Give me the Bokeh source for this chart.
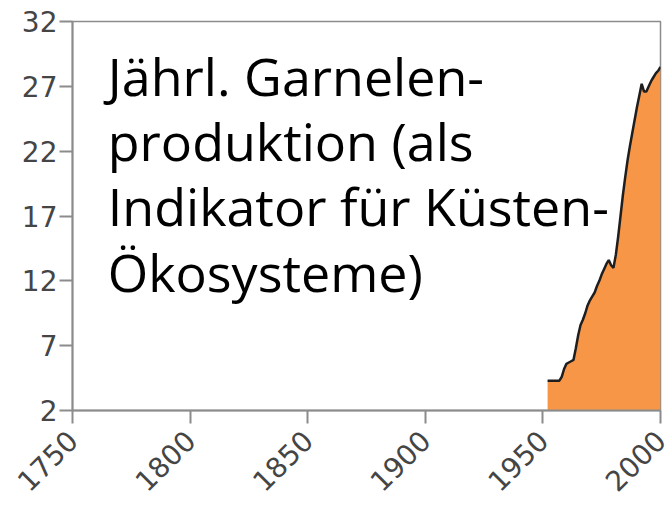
from bokeh.plotting import figure
from bokeh.models import Range1d, FixedTicker, Label
from bokeh.embed import file_html
from bokeh.resources import INLINE
import math

years = [1952, 1953, 1954, 1955, 1956, 1957, 1958, 1959, 1960, 1961, 1962, 1963,
         1964, 1965, 1966, 1967, 1968, 1969, 1970, 1971, 1972, 1973, 1974, 1975,
         1976, 1977, 1978, 1979, 1980, 1981, 1982, 1983, 1984, 1985, 1986, 1987,
         1988, 1989, 1990, 1991, 1992, 1993, 1994, 1995, 1996, 1997, 1998, 1999, 2000]
production = [4.3, 4.3, 4.3, 4.3, 4.3, 4.3, 4.6, 5.2, 5.6, 5.7, 5.8, 5.9,
              6.8, 7.8, 8.6, 9.0, 9.5, 10.1, 10.5, 10.8, 11.1, 11.6, 12.0, 12.5,
              12.9, 13.3, 13.6, 13.2, 13.0, 14.0, 15.4, 17.0, 18.6, 20.0, 21.3, 22.4,
              23.4, 24.4, 25.4, 26.3, 27.2, 26.6, 26.6, 27.0, 27.4, 27.7, 28.0, 28.2, 28.5]
y_ticks = [2, 7, 12, 17, 22, 27, 32]
x_ticks = [1750, 1800, 1850, 1900, 1950, 2000]
title_text = "Jährl. Garnelen-\nproduktion (als\nIndikator für Küsten-\nÖkosysteme)"

p = figure(width=672, height=510, output_backend="svg", toolbar_location=None,
           x_range=Range1d(1750, 2000), y_range=Range1d(2, 32),
           min_border_left=72, min_border_right=12, min_border_top=21, min_border_bottom=100)

p.xgrid.visible = False
p.ygrid.visible = False
p.outline_line_color = "#8c8c8c"
p.outline_line_width = 1.5
p.background_fill_color = "white"
p.border_fill_color = "white"

base = [2] * len(years)
p.varea(x=years, y1=base, y2=production, fill_color="#F79646")
p.line(x=years, y=production, line_color="#1e1e1e", line_width=2.5)

for ax, ticks in ((p.xaxis[0], x_ticks), (p.yaxis[0], y_ticks)):
    ax.ticker = FixedTicker(ticks=ticks)
    ax.axis_line_color = "#8c8c8c"
    ax.axis_line_width = 2
    ax.major_tick_line_color = "#8c8c8c"
    ax.major_tick_line_width = 2
    ax.major_tick_in = 0
    ax.major_tick_out = 13
    ax.minor_tick_line_color = None
    ax.major_label_text_font = "DejaVu Sans"
    ax.major_label_text_font_size = "28px"
    ax.major_label_text_color = "#454545"

p.yaxis[0].major_label_standoff = 2
p.xaxis[0].major_label_standoff = 12
p.xaxis[0].major_label_orientation = math.pi / 4

label = Label(x=1765, y=30.6, text=title_text, text_font="Open Sans",
              text_font_size="52px", text_color="black", text_baseline="top",
              text_line_height=0.92)
p.add_layout(label)

open("out.html", "w").write(file_html(p, INLINE))
